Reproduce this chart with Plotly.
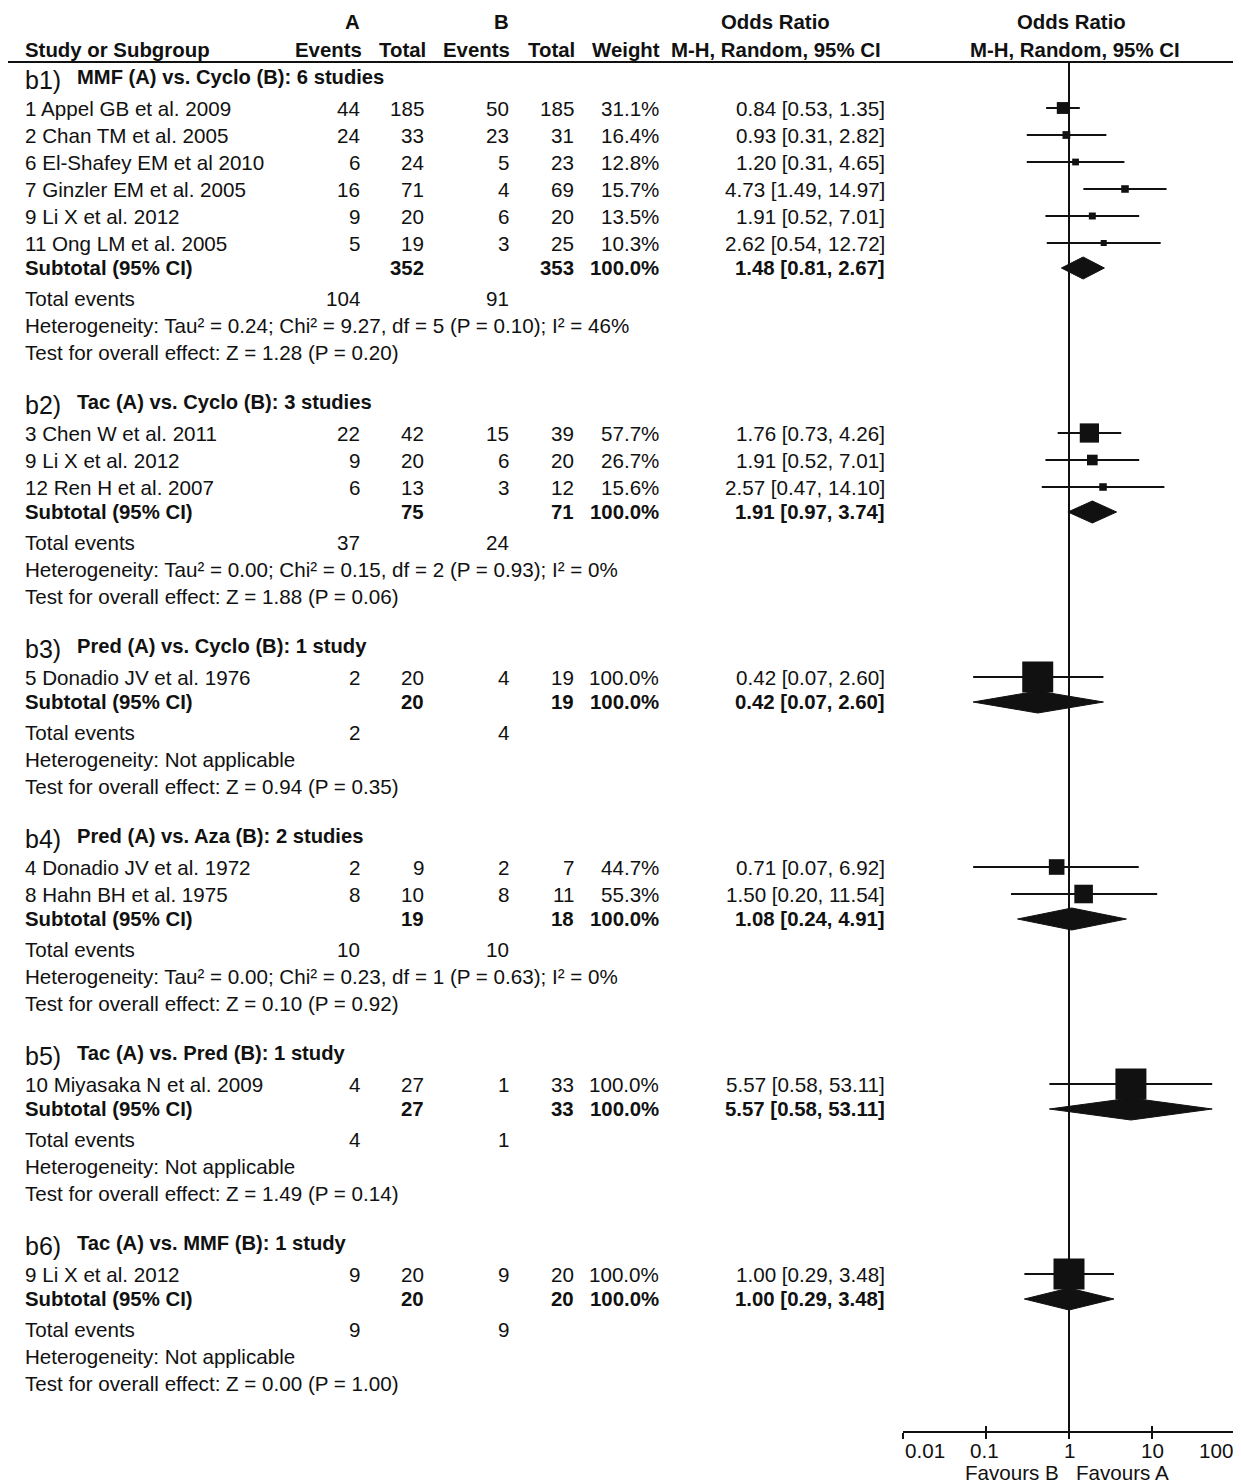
import math
import plotly.graph_objects as go

# ---------------- data ----------------
group_labels = ["b1)", "b2)", "b3)", "b4)", "b5)", "b6)"]
group_titles = [
    "MMF (A) vs. Cyclo (B): 6 studies",
    "Tac (A) vs. Cyclo (B): 3 studies",
    "Pred (A) vs. Cyclo (B): 1 study",
    "Pred (A) vs. Aza (B): 2 studies",
    "Tac (A) vs. Pred (B): 1 study",
    "Tac (A) vs. MMF (B): 1 study",
]
study_names = [
    ["1 Appel GB et al. 2009", "2 Chan TM et al. 2005", "6 El-Shafey EM et al 2010",
     "7 Ginzler EM et al. 2005", "9 Li X et al. 2012", "11 Ong LM et al. 2005"],
    ["3 Chen W et al. 2011", "9 Li X et al. 2012", "12 Ren H et al. 2007"],
    ["5 Donadio JV et al. 1976"],
    ["4 Donadio JV et al. 1972", "8 Hahn BH et al. 1975"],
    ["10 Miyasaka N et al. 2009"],
    ["9 Li X et al. 2012"],
]
a_events = [[44, 24, 6, 16, 9, 5], [22, 9, 6], [2], [2, 8], [4], [9]]
a_totals = [[185, 33, 24, 71, 20, 19], [42, 20, 13], [20], [9, 10], [27], [20]]
b_events = [[50, 23, 5, 4, 6, 3], [15, 6, 3], [4], [2, 8], [1], [9]]
b_totals = [[185, 31, 23, 69, 20, 25], [39, 20, 12], [19], [7, 11], [33], [20]]
weights = [[31.1, 16.4, 12.8, 15.7, 13.5, 10.3], [57.7, 26.7, 15.6], [100.0],
           [44.7, 55.3], [100.0], [100.0]]
or_est = [[0.84, 0.93, 1.20, 4.73, 1.91, 2.62], [1.76, 1.91, 2.57], [0.42],
          [0.71, 1.50], [5.57], [1.00]]
or_lo = [[0.53, 0.31, 0.31, 1.49, 0.52, 0.54], [0.73, 0.52, 0.47], [0.07],
         [0.07, 0.20], [0.58], [0.29]]
or_hi = [[1.35, 2.82, 4.65, 14.97, 7.01, 12.72], [4.26, 7.01, 14.10], [2.60],
         [6.92, 11.54], [53.11], [3.48]]
sub_a_total = [352, 75, 20, 19, 27, 20]
sub_b_total = [353, 71, 19, 18, 33, 20]
sub_weight = [100.0, 100.0, 100.0, 100.0, 100.0, 100.0]
sub_or = [1.48, 1.91, 0.42, 1.08, 5.57, 1.00]
sub_lo = [0.81, 0.97, 0.07, 0.24, 0.58, 0.29]
sub_hi = [2.67, 3.74, 2.60, 4.91, 53.11, 3.48]
tot_a_events = [104, 37, 2, 10, 4, 9]
tot_b_events = [91, 24, 4, 10, 1, 9]
heterogeneity = [
    "Heterogeneity: Tau² = 0.24; Chi² = 9.27, df = 5 (P = 0.10); I² = 46%",
    "Heterogeneity: Tau² = 0.00; Chi² = 0.15, df = 2 (P = 0.93); I² = 0%",
    "Heterogeneity: Not applicable",
    "Heterogeneity: Tau² = 0.00; Chi² = 0.23, df = 1 (P = 0.63); I² = 0%",
    "Heterogeneity: Not applicable",
    "Heterogeneity: Not applicable",
]
overall_effect = [
    "Test for overall effect: Z = 1.28 (P = 0.20)",
    "Test for overall effect: Z = 1.88 (P = 0.06)",
    "Test for overall effect: Z = 0.94 (P = 0.35)",
    "Test for overall effect: Z = 0.10 (P = 0.92)",
    "Test for overall effect: Z = 1.49 (P = 0.14)",
    "Test for overall effect: Z = 0.00 (P = 1.00)",
]
axis_ticks = [0.01, 0.1, 1, 10, 100]
axis_tick_labels = ["0.01", "0.1", "1", "10", "100"]
favours_labels = ["Favours B", "Favours A"]

# ---------------- layout constants ----------------
W, H = 1241, 1483          # page size
OFF = 8                    # default body margin of the html page
FW, FH = W - OFF, H - OFF  # figure size
FONT = "Liberation Sans, Arial, sans-serif"
INK = "#111111"
FS = 20.6
FSB = 20.4
HEADER_LINE_Y = 62
AXIS_Y = 1432
FIRST_HEADER_Y = 78
STUDY_STEP = 27
DIAMOND_HALF = 11

COL_NAME = 23
COL_AEV = 362
COL_ATOT = 426
COL_BEV = 511
COL_BTOT = 576
COL_W = 661
COL_OR = 887


def px(xp):
    return (xp - OFF) / FW


fig = go.Figure()
ann = []


def txt(xp, y, s, anchor="left", bold=False, size=None, yshift=0):
    if size is None:
        size = FSB if bold else FS
    if bold:
        s = "<b>" + s + "</b>"
    ann.append(dict(x=px(xp), xref="paper", y=y, yref="y", text=s, showarrow=False,
                    xanchor=anchor, yanchor="middle", yshift=yshift,
                    font=dict(size=size, family=FONT, color=INK)))


# column headers
txt(352, 22, "A", "center", True)
txt(502, 22, "B", "center", True)
txt(775, 22, "Odds Ratio", "center", True)
txt(1071, 22, "Odds Ratio", "center", True)
txt(COL_NAME, 50, "Study or Subgroup", "left", True)
txt(COL_AEV + 2, 50, "Events", "right", True)
txt(COL_ATOT + 2, 50, "Total", "right", True)
txt(COL_BEV + 1, 50, "Events", "right", True)
txt(COL_BTOT + 1, 50, "Total", "right", True)
txt(COL_W + 1, 50, "Weight", "right", True)
txt(776, 50, "M-H, Random, 95% CI", "center", True)
txt(1075, 50, "M-H, Random, 95% CI", "center", True)

ci_x, ci_y, sq_x, sq_y, sq_s = [], [], [], [], []

y = FIRST_HEADER_Y
for g in range(len(group_labels)):
    txt(COL_NAME, y + 2, group_labels[g], "left", False, 25)
    txt(75, y - 1, group_titles[g], "left", True, 20.2)
    ys = y + 30
    for i, name in enumerate(study_names[g]):
        txt(COL_NAME, ys, name)
        txt(COL_AEV, ys, str(a_events[g][i]), "right")
        txt(COL_ATOT, ys, str(a_totals[g][i]), "right")
        txt(COL_BEV, ys, str(b_events[g][i]), "right")
        txt(COL_BTOT, ys, str(b_totals[g][i]), "right")
        txt(COL_W, ys, f"{weights[g][i]:.1f}%", "right")
        txt(COL_OR, ys, f"{or_est[g][i]:.2f} [{or_lo[g][i]:.2f}, {or_hi[g][i]:.2f}]", "right")
        ci_x += [or_lo[g][i], or_hi[g][i], None]
        ci_y += [ys, ys, None]
        sq_x.append(or_est[g][i])
        sq_y.append(ys)
        sq_s.append(3.2 + 0.278 * weights[g][i])
        last = ys
        ys += STUDY_STEP
    ysub = last + 25
    txt(COL_NAME, ysub, "Subtotal (95% CI)", "left", True)
    txt(COL_ATOT, ysub, str(sub_a_total[g]), "right", True)
    txt(COL_BTOT, ysub, str(sub_b_total[g]), "right", True)
    txt(COL_W, ysub, f"{sub_weight[g]:.1f}%", "right", True)
    txt(COL_OR, ysub, f"{sub_or[g]:.2f} [{sub_lo[g]:.2f}, {sub_hi[g]:.2f}]", "right", True)
    fig.add_trace(go.Scatter(
        x=[sub_lo[g], sub_or[g], sub_hi[g], sub_or[g], sub_lo[g]],
        y=[ysub, ysub - DIAMOND_HALF, ysub, ysub + DIAMOND_HALF, ysub],
        mode="lines", fill="toself", fillcolor=INK,
        line=dict(color=INK, width=1), hoverinfo="skip", showlegend=False))
    ytot = ysub + 30.5
    txt(COL_NAME, ytot, "Total events")
    txt(COL_AEV, ytot, str(tot_a_events[g]), "right")
    txt(COL_BEV, ytot, str(tot_b_events[g]), "right")
    yh = ytot + 27
    txt(COL_NAME, yh, heterogeneity[g])
    yt = yh + 27
    txt(COL_NAME, yt, overall_effect[g])
    y = yt + 50.5

# vertical line of no effect
fig.add_trace(go.Scatter(x=[1, 1], y=[HEADER_LINE_Y, AXIS_Y], mode="lines",
                         line=dict(color=INK, width=2), hoverinfo="skip", showlegend=False))
# confidence intervals
fig.add_trace(go.Scatter(x=ci_x, y=ci_y, mode="lines", line=dict(color=INK, width=2),
                         hoverinfo="skip", showlegend=False, connectgaps=False))
# study squares
fig.add_trace(go.Scatter(x=sq_x, y=sq_y, mode="markers",
                         marker=dict(symbol="square", size=sq_s, color=INK, opacity=1,
                                     line=dict(width=0)),
                         hoverinfo="skip", showlegend=False))

# tick labels & favours
for v, lab in zip(axis_ticks, axis_tick_labels):
    anchor, shift = "center", 0
    if v == axis_ticks[0]:
        anchor, shift = "left", 0
    elif v == axis_ticks[-1]:
        anchor, shift = "right", 0
    elif v == 0.1:
        shift = -2
    ann.append(dict(x=math.log10(v), xref="x", y=1450, yref="y", text=lab, showarrow=False,
                    xanchor=anchor, yanchor="middle", xshift=shift,
                    font=dict(size=FS, family=FONT, color=INK)))
ann.append(dict(x=0, xref="x", y=1472, yref="y", text=favours_labels[0], showarrow=False,
                xanchor="right", yanchor="middle", xshift=-8,
                font=dict(size=FS, family=FONT, color=INK)))
ann.append(dict(x=0, xref="x", y=1472, yref="y", text=favours_labels[1], showarrow=False,
                xanchor="left", yanchor="middle", xshift=5,
                font=dict(size=FS, family=FONT, color=INK)))

dom = [px(903), px(1235)]
pos = 1 - (AXIS_Y - OFF) / FH
fig.update_layout(
    width=FW, height=FH,
    margin=dict(l=0, r=0, t=0, b=0),
    paper_bgcolor="white", plot_bgcolor="rgba(0,0,0,0)",
    hovermode=False,
    annotations=ann,
    shapes=[dict(type="line", xref="paper", yref="y", x0=0, x1=1, y0=HEADER_LINE_Y,
                 y1=HEADER_LINE_Y, line=dict(color=INK, width=2))],
    xaxis=dict(type="log", range=[-2, 2], domain=dom, anchor="free", position=pos,
               showline=True, linecolor=INK, linewidth=2, ticks="outside", ticklen=6,
               tickwidth=2, tickcolor=INK, tickvals=axis_ticks, showticklabels=False,
               showgrid=False, zeroline=False, fixedrange=True),
    xaxis2=dict(type="log", range=[-2, 2], domain=dom, anchor="free", position=pos,
                overlaying="x", showline=False, ticks="inside", ticklen=6, tickwidth=2,
                tickcolor=INK, tickvals=axis_ticks, showticklabels=False,
                showgrid=False, zeroline=False, fixedrange=True),
    yaxis=dict(range=[H, OFF], domain=[0, 1], visible=False, showgrid=False,
               zeroline=False, fixedrange=True),
)
# invisible trace that activates the overlaying tick axis
fig.add_trace(go.Scatter(x=[1], y=[-100], xaxis="x2", mode="markers",
                         marker=dict(opacity=0), hoverinfo="skip", showlegend=False))

fig.write_html("out.html")
